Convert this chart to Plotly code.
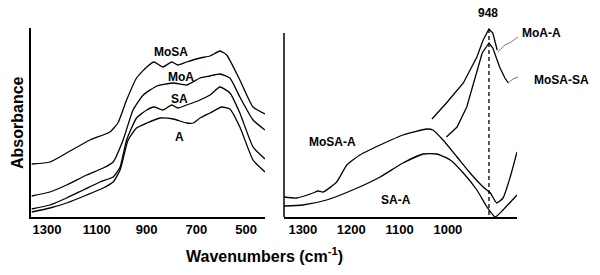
import plotly.graph_objects as go

# ---------------- Left panel data (wavenumber, absorbance a.u.) ----------------
mosa_x = [1361, 1288, 1221, 1127, 1047, 1015, 980, 940, 899, 870, 834, 799, 774, 739, 685, 645, 605, 578, 525, 472, 424]
mosa_y = [53, 55, 64, 77, 85, 94, 117, 139, 150, 155, 150, 155, 152, 155, 159, 161, 166, 162, 137, 110, 103]

moa_x = [1361, 1288, 1221, 1140, 1074, 1034, 994, 954, 913, 858, 792, 739, 685, 645, 605, 565, 525, 472, 424]
moa_y = [21, 25, 32, 42, 49, 55, 77, 107, 122, 131, 134, 132, 139, 141, 143, 139, 120, 97, 87]

sa_x = [1361, 1288, 1221, 1154, 1087, 1034, 1006, 980, 940, 899, 870, 834, 799, 774, 739, 685, 645, 605, 565, 525, 472, 424]
sa_y = [8, 12, 19, 27, 35, 40, 50, 77, 99, 107, 110, 107, 112, 109, 112, 117, 122, 130, 124, 104, 70, 58]

a_x = [1361, 1288, 1221, 1140, 1074, 1034, 1006, 974, 940, 899, 845, 792, 739, 712, 685, 645, 598, 565, 525, 472, 424]
a_y = [5, 9, 14, 22, 29, 35, 47, 77, 89, 94, 99, 98, 94, 94, 99, 104, 110, 108, 90, 57, 45]

# ---------------- Right panel data (difference spectra) ----------------
mosa_a_x = [1339, 1313, 1279, 1269, 1258, 1230, 1209, 1182, 1140, 1093, 1044, 1031, 1010, 981, 954, 927, 912, 899, 886, 871, 857]
mosa_a_y = [20, 19, 24, 26, 25, 35, 52, 62, 72, 82, 88, 87, 77, 60, 44, 30, 24, 14, 19, 40, 65]

sa_a_x = [1339, 1300, 1251, 1197, 1140, 1093, 1051, 1023, 995, 968, 940, 919, 902, 886, 857]
sa_a_y = [11, 12, 17, 27, 40, 54, 63, 63, 57, 44, 27, 10, 0, 7, 22]

moa_a_x = [1033, 1003, 968, 940, 927, 915, 907, 898]
moa_a_y = [98, 114, 134, 160, 177, 188, 184, 167]

mosa_sa_x = [1003, 981, 961, 940, 929, 915, 907, 893, 882, 875]
mosa_sa_y = [80, 90, 110, 144, 164, 174, 169, 150, 139, 134]

peak_x = 915          # position of the dashed marker (labelled 948)
peak_label = "948"

left_ticks = [1300, 1100, 900, 700, 500]
right_ticks = [1300, 1200, 1100, 1000]

FONT = "Arial, Liberation Sans, sans-serif"
LINE = dict(color="black", width=1.3)

fig = go.Figure()
for xs, ys in [(mosa_x, mosa_y), (moa_x, moa_y), (sa_x, sa_y), (a_x, a_y)]:
    fig.add_trace(go.Scatter(x=xs, y=ys, mode="lines", line=dict(LINE, shape="spline", smoothing=0.5),
                             xaxis="x", yaxis="y", showlegend=False))
for xs, ys in [(mosa_a_x, mosa_a_y), (sa_a_x, sa_a_y)]:
    fig.add_trace(go.Scatter(x=xs, y=ys, mode="lines", line=dict(LINE, shape="spline", smoothing=0.5),
                             xaxis="x2", yaxis="y2", showlegend=False))
for xs, ys in [(moa_a_x, moa_a_y), (mosa_sa_x, mosa_sa_y)]:
    fig.add_trace(go.Scatter(x=xs, y=ys, mode="lines", line=LINE,
                             xaxis="x2", yaxis="y2", showlegend=False))

# dashed marker line
fig.add_trace(go.Scatter(x=[peak_x, peak_x], y=[188, 0], mode="lines",
                         line=dict(color="black", width=1.3, dash="4px,3px"),
                         xaxis="x2", yaxis="y2", showlegend=False))

axis_common = dict(showline=True, linecolor="black", linewidth=1.5, showgrid=False, zeroline=False,
                   ticks="", tickfont=dict(family=FONT, size=13, color="black", weight="bold"))

fig.update_layout(
    width=600, height=275, margin=dict(l=0, r=0, t=0, b=0),
    paper_bgcolor="white", plot_bgcolor="white",
    xaxis=dict(axis_common, domain=[31/600, 265/600], range=[1364, 424], tickvals=left_ticks,
               anchor="y", ticklabelstandoff=0),
    yaxis=dict(axis_common, domain=[58/275, 247/275], range=[0, 189], showticklabels=False, anchor="x"),
    xaxis2=dict(axis_common, domain=[284/600, 517/600], range=[1339, 857], tickvals=right_ticks,
                anchor="y2", ticklabelstandoff=0),
    yaxis2=dict(axis_common, domain=[58/275, 247/275], range=[0, 189], showticklabels=False,
                showline=False, anchor="x2"),
)

# right panel y-axis line (shorter than the plotting area)
fig.add_shape(type="line", xref="x2 domain", yref="y2", x0=0, x1=0, y0=0, y1=184,
              line=dict(color="black", width=1.5))

lab = dict(family=FONT, size=12, color="black", weight="bold")
annots = [
    ("x", "y", 800, 165, "MoSA"), ("x", "y", 760, 140, "MoA"),
    ("x", "y", 768, 118, "SA"), ("x", "y", 768, 80, "A"),
    ("x2", "y2", 1238, 75, "MoSA-A"), ("x2", "y2", 1107, 17, "SA-A"),
]
for xr, yr, x, y, t in annots:
    fig.add_annotation(x=x, y=y, xref=xr, yref=yr, text=t, showarrow=False, font=lab,
                       xanchor="center", yanchor="middle")

# labels outside right panel
for px, py, t in [(488, 13, peak_label), (541, 33, "MoA-A"), (561, 80, "MoSA-SA")]:
    fig.add_annotation(x=px/600, y=1 - py/275, xref="paper", yref="paper", text=t, showarrow=False,
                       font=lab, xanchor="center", yanchor="middle")

# leader lines (thin connectors from curve ends to labels)
fig.add_shape(type="path", xref="paper", yref="paper",
              path=f"M {498/600} {1-52/275} Q {505/600} {1-44/275} {507/600} {1-44/275} T {518/600} {1-37/275}",
              line=dict(color="#555", width=0.8))
fig.add_shape(type="path", xref="paper", yref="paper",
              path=f"M {508/600} {1-83/275} Q {513/600} {1-78/275} {518/600} {1-77/275}",
              line=dict(color="#555", width=0.8))

# axis titles
fig.add_annotation(x=17/600, y=1 - 123/275, xref="paper", yref="paper", text="Absorbance", textangle=-90,
                   showarrow=False, xanchor="center", yanchor="middle",
                   font=dict(family=FONT, size=16, color="black", weight="bold"))
fig.add_annotation(x=264/600, y=1 - 255/275, xref="paper", yref="paper",
                   text="Wavenumbers (cm<sup>-1</sup>)", showarrow=False, xanchor="center", yanchor="middle",
                   font=dict(family=FONT, size=16, color="black", weight="bold"))

fig.write_html("out.html", config={"displayModeBar": False},
               post_script="document.body.style.margin='0';document.body.style.padding='0';")
